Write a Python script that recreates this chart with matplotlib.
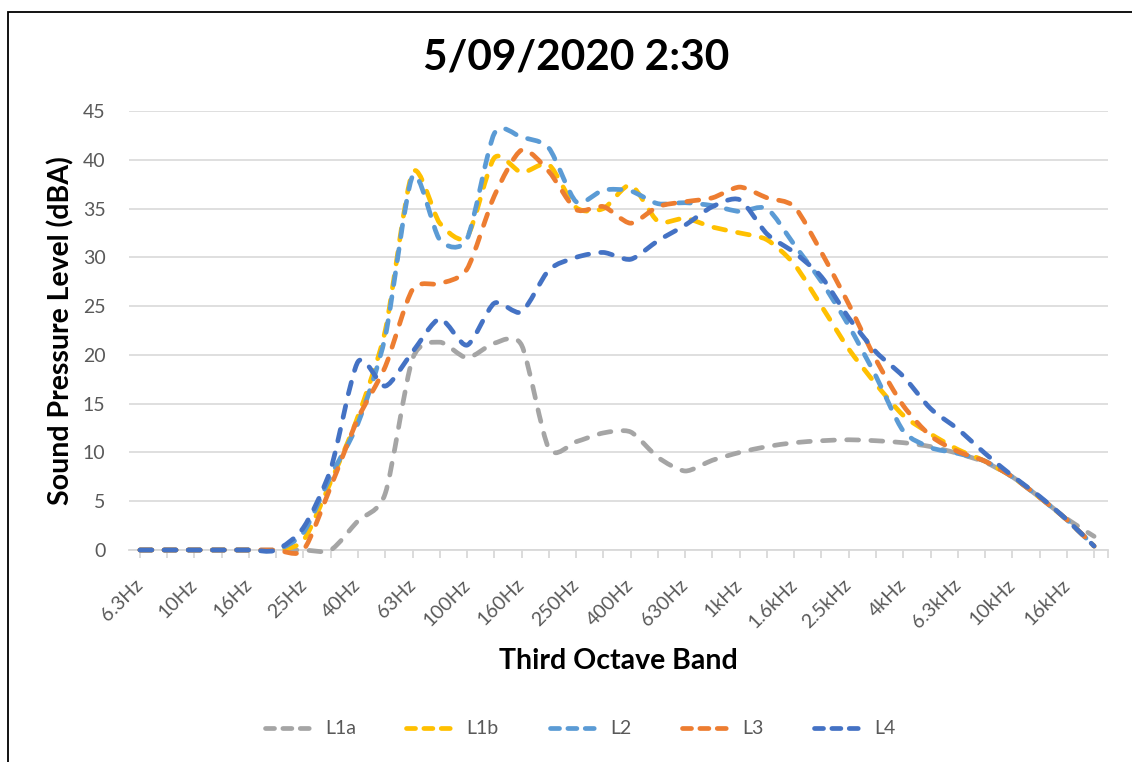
import matplotlib
matplotlib.use("Agg")
import matplotlib.pyplot as plt
from matplotlib.path import Path
from matplotlib.patches import PathPatch, Rectangle
from matplotlib.lines import Line2D

plt.rcParams['font.family'] = ['Lato', 'DejaVu Sans']
plt.rcParams['lines.scale_dashes'] = False

# Third-octave band centre frequencies
bands = ["6.3Hz", "8Hz", "10Hz", "12.5Hz", "16Hz", "20Hz", "25Hz", "31.5Hz",
         "40Hz", "50Hz", "63Hz", "80Hz", "100Hz", "125Hz", "160Hz", "200Hz",
         "250Hz", "315Hz", "400Hz", "500Hz", "630Hz", "800Hz", "1kHz",
         "1.25kHz", "1.6kHz", "2kHz", "2.5kHz", "3.15kHz", "4kHz", "5kHz",
         "6.3kHz", "8kHz", "10kHz", "12.5kHz", "16kHz", "20kHz"]

# Sound pressure level per band (dBA) at each location
L1a = [0, 0, 0, 0, 0, 0, 0, 0, 3.0, 5.8, 19.6, 21.3, 19.7, 21.2, 21.0, 10.4,
       11.1, 12.0, 12.1, 9.5, 8.1, 9.2, 10.0, 10.6, 11.0, 11.2, 11.3, 11.2,
       11.0, 10.6, 9.9, 9.0, 7.5, 5.4, 3.2, 1.4]
L1b = [0, 0, 0, 0, 0, 0, 1.0, 7.0, 13.7, 22.5, 38.7, 33.5, 32.1, 40.2, 38.7,
       39.5, 35.1, 35.0, 37.4, 33.7, 34.0, 33.1, 32.5, 31.8, 29.3, 25.0, 20.6,
       17.0, 13.8, 11.9, 10.3, 9.1, 7.5, 5.4, 3.1, 0.4]
L2 = [0, 0, 0, 0, 0, 0, 1.8, 7.6, 13.0, 21.9, 38.3, 31.8, 31.9, 42.7, 42.3,
      41.2, 35.7, 36.9, 36.8, 35.5, 35.6, 35.3, 34.7, 35.0, 31.3, 27.5, 23.0,
      17.8, 12.2, 10.5, 9.9, 9.1, 7.5, 5.4, 3.1, 0.4]
L3 = [0, 0, 0, 0, 0, 0, 0, 6.5, 13.5, 18.8, 26.7, 27.3, 28.8, 36.3, 41.0,
      38.8, 34.9, 35.2, 33.5, 35.2, 35.7, 36.1, 37.2, 36.1, 35.2, 30.5, 25.2,
      19.5, 14.8, 11.7, 10.1, 9.1, 7.5, 5.4, 3.1, 0.4]
L4 = [0, 0, 0, 0, 0, 0, 2.3, 8.3, 19.3, 16.8, 20.3, 23.7, 21.0, 25.3, 24.4,
      28.7, 30.0, 30.5, 29.8, 31.7, 33.3, 35.2, 35.9, 32.4, 30.5, 28.0, 23.8,
      20.3, 17.8, 14.5, 12.4, 9.9, 7.6, 5.5, 3.1, 0.4]

series_names = ["L1a", "L1b", "L2", "L3", "L4"]
series_values = [L1a, L1b, L2, L3, L4]
series_colors = ["#A5A5A5", "#FFC000", "#5B9BD5", "#ED7D31", "#4472C4"]

W, H = 1132, 762
fig = plt.figure(figsize=(W / 100, H / 100), dpi=100)
fig.patch.set_facecolor("white")

# chart border (top and left edges visible)
fig.patches.append(Rectangle((8 / W, -0.1), 1.2, (H - 12) / H + 0.1,
                             transform=fig.transFigure, fill=False,
                             edgecolor="black", lw=1.3))

ax = fig.add_axes([129 / W, 1 - 550 / H, (1108 - 129) / W, (550 - 111) / H])
ax.set_xlim(-0.40, 35.51)
ax.set_ylim(0, 45)

LW = 3.4
DASH = (0, (8.6, 8.8))
TENSION = 1 / 8


def smooth_path(xs, ys):
    """Bezier path through the points, with cardinal-spline style handles."""
    pts = list(zip(xs, ys))
    n = len(pts)
    verts = [pts[0]]
    codes = [Path.MOVETO]
    for i in range(n - 1):
        p0 = pts[i - 1] if i > 0 else pts[i]
        p1 = pts[i]
        p2 = pts[i + 1]
        p3 = pts[i + 2] if i + 2 < n else pts[i + 1]
        c1 = (p1[0] + (p2[0] - p0[0]) * TENSION, p1[1] + (p2[1] - p0[1]) * TENSION)
        c2 = (p2[0] - (p3[0] - p1[0]) * TENSION, p2[1] - (p3[1] - p1[1]) * TENSION)
        verts += [c1, c2, p2]
        codes += [Path.CURVE4] * 3
    return Path(verts, codes)


xs = list(range(len(bands)))
handles = []
for name, vals, col in zip(series_names, series_values, series_colors):
    patch = PathPatch(smooth_path(xs, vals), fill=False, edgecolor=col,
                      lw=LW, linestyle=DASH, capstyle="round",
                      joinstyle="round", zorder=3, clip_on=False)
    ax.add_patch(patch)
    handles.append(Line2D([], [], color=col, lw=LW, linestyle=(0, (6.5, 6.0)),
                          dash_capstyle="round", label=name))

# grid and axes styling
ax.set_yticks(range(0, 46, 5))
ax.grid(axis="y", color="#D9D9D9", lw=1.2, zorder=0)
ax.set_axisbelow(True)
for side in ["left", "right", "top"]:
    ax.spines[side].set_visible(False)
ax.spines["bottom"].set_color("#D9D9D9")
ax.spines["bottom"].set_linewidth(1.3)
ax.tick_params(axis="y", length=0, pad=17, labelsize=14, labelcolor="#595959")
ax.set_xticks(xs + [35.5])
ax.set_xticklabels([b if i % 2 == 0 else "" for i, b in enumerate(bands)] + [""],
                   rotation=45, ha="right", va="center",
                   rotation_mode="anchor", fontsize=14, color="#595959")
ax.tick_params(axis="x", length=6, width=1.3, color="#D9D9D9", pad=17)

ax.set_xlabel("Third Octave Band", fontsize=20.5, fontweight="bold",
              color="black", labelpad=12)
ax.set_ylabel("Sound Pressure Level (dBA)", fontsize=20.5, fontweight="bold",
              color="black", labelpad=6)

fig.text(576 / W, 1 - 58 / H, "5/09/2020 2:30", ha="center", va="center",
         fontsize=30.5, fontweight="bold", color="black")

fig.legend(handles=handles, loc="center", bbox_to_anchor=(580 / W, 1 - 729 / H),
           ncol=5, frameon=False, fontsize=14, labelcolor="#595959",
           handlelength=2.6, handletextpad=0.5, columnspacing=2.6)

fig.savefig("out.png", dpi=100, facecolor="white")
